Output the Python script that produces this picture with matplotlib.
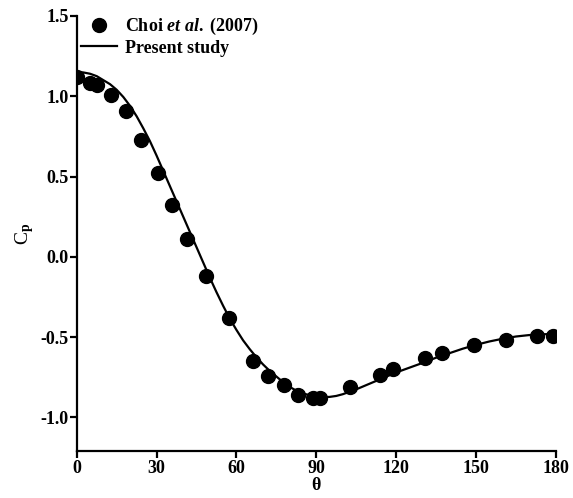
import matplotlib
matplotlib.use("Agg")
import matplotlib.pyplot as plt

# Choi et al. (2007) experimental points
exp_theta = [0, 4.8, 7.7, 13.0, 18.4, 24.2, 30.4, 35.6, 41.5, 48.5, 57.3, 66.3,
             71.9, 77.7, 83.3, 88.9, 91.3, 102.6, 113.9, 118.9, 131.0, 137.2,
             149.1, 161.1, 173.0, 179.0]
exp_cp = [1.12, 1.08, 1.07, 1.01, 0.905, 0.73, 0.52, 0.325, 0.113, -0.12, -0.38, -0.65,
          -0.74, -0.80, -0.858, -0.88, -0.88, -0.81, -0.733, -0.70, -0.63, -0.60,
          -0.55, -0.515, -0.49, -0.49]

# present study curve
sim_theta = [0, 2.5, 5, 7.5, 10, 12.5, 15, 17.5, 20, 22.5, 25, 27.5, 30, 32.5, 35,
             37.5, 40, 42.5, 45, 47.5, 50, 52.5, 55, 57.5, 60, 62.5, 65, 67.5, 70,
             72.5, 75, 77.5, 80, 82.5, 85, 87.5, 90, 92.5, 95, 97.5, 100, 105, 110,
             115, 120, 125, 130, 135, 140, 145, 150, 155, 160, 165, 170, 175, 180]
sim_cp = [1.15, 1.148, 1.14, 1.125, 1.10, 1.075, 1.04, 0.995, 0.94, 0.875, 0.80,
          0.72, 0.63, 0.535, 0.44, 0.345, 0.25, 0.155, 0.06, -0.035, -0.13, -0.22,
          -0.305, -0.385, -0.455, -0.52, -0.575, -0.625, -0.67, -0.71, -0.745,
          -0.78, -0.81, -0.833, -0.85, -0.862, -0.87, -0.873, -0.872, -0.866,
          -0.855, -0.825, -0.79, -0.755, -0.72, -0.69, -0.66, -0.628, -0.60,
          -0.572, -0.548, -0.527, -0.51, -0.496, -0.487, -0.482, -0.48]

x_ticks = [0, 30, 60, 90, 120, 150, 180]
y_ticks = [-1.0, -0.5, 0.0, 0.5, 1.0, 1.5]

plt.rcParams['font.family'] = ['Liberation Serif', 'DejaVu Serif']
plt.rcParams['font.weight'] = 'bold'
plt.rcParams['mathtext.fontset'] = 'custom'
plt.rcParams['mathtext.rm'] = 'Liberation Serif:bold'
plt.rcParams['mathtext.it'] = 'Liberation Serif:italic:bold'
plt.rcParams['mathtext.bf'] = 'Liberation Serif:bold'

fig = plt.figure(figsize=(5.73, 4.98), dpi=100)
ax = fig.add_axes([0.134, 0.094, 0.836, 0.874])

ax.plot(exp_theta, exp_cp, 'o', color='black', markersize=10,
        label=r'Choi $\mathit{et\ al.}$ (2007)', zorder=3)
ax.plot(sim_theta, sim_cp, '-', color='black', linewidth=1.6,
        label='Present study', zorder=2)

ax.set_xlim(0, 180)
ax.set_ylim(-1.21, 1.5)
ax.set_xticks(x_ticks)
ax.set_yticks(y_ticks)
ax.set_yticklabels([f'{v:.1f}' for v in y_ticks])

for side in ['top', 'right']:
    ax.spines[side].set_visible(False)
for side in ['left', 'bottom']:
    ax.spines[side].set_linewidth(1.6)
ax.tick_params(direction='out', length=5, width=1.6, labelsize=13, pad=1)

ax.set_xlabel(r'$\mathbf{\theta}$', fontsize=13, labelpad=0)
ax.set_ylabel(r'C$_\mathrm{p}$', fontsize=14, labelpad=3)

ax.legend(loc='upper left', bbox_to_anchor=(-0.013, 1.025), frameon=False,
          fontsize=13, handlelength=2.0, handletextpad=0.4, labelspacing=0.15,
          borderaxespad=0.2, numpoints=1)

fig.savefig('out.png', dpi=100)
